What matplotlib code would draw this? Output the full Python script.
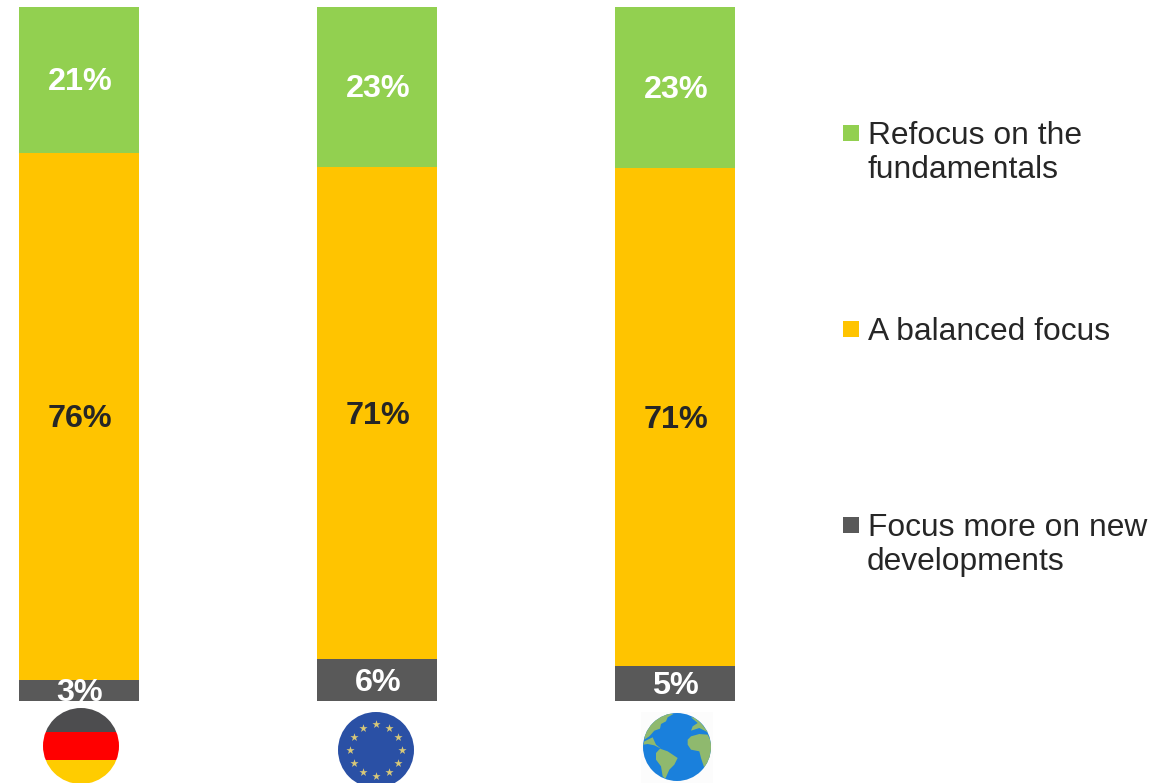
import numpy as np
import matplotlib.pyplot as plt
from matplotlib.patches import Circle, Rectangle, Polygon

plt.rcParams['font.family'] = ['Liberation Sans', 'DejaVu Sans']

regions = ['Germany', 'Europe', 'World']
new_developments = [3, 6, 5]
balanced = [76, 71, 71]
fundamentals = [21, 23, 23]

GREEN = '#92d050'
AMBER = '#ffc400'
GREY = '#595959'
INK = '#262626'

W, H = 1171, 783
fig = plt.figure(figsize=(W / 100, H / 100), dpi=100)

# bars sit on a 298 px pitch, first centre at x=79
ax = fig.add_axes([0, (H - 701) / H, 830 / W, 694 / H])
ax.set_xlim(-79 / 298, (830 - 79) / 298)
ax.set_ylim(0, 100)
ax.axis('off')

x = np.arange(len(regions))
series = [(new_developments, GREY, 'white'),
          (balanced, AMBER, INK),
          (fundamentals, GREEN, 'white')]
totals = np.sum([s[0] for s in series], axis=0)
bottom = np.zeros(len(regions))
for values, color, text_color in series:
    # stacked to 100 %, the rounded labels don't always add up
    heights = np.array(values) / totals * 100
    ax.bar(x, heights, width=120 / 298, bottom=bottom, color=color, linewidth=0)
    for xi, b, h, v in zip(x, bottom, heights, values):
        ax.annotate(f'{v}%', (xi, b + h / 2), xytext=(0.6, 0.7), textcoords='offset points',
                    ha='center', va='center_baseline', fontsize=23.3, fontweight='bold',
                    color=text_color, clip_on=True)
    bottom += heights

# overlay in pixel coordinates for the legend and the icons
ov = fig.add_axes([0, 0, 1, 1])
ov.set_xlim(0, W)
ov.set_ylim(H, 0)
ov.axis('off')
ov.patch.set_alpha(0)

legend_items = [('Refocus on the\nfundamentals', GREEN, 133),
                ('A balanced focus', AMBER, 329),
                ('Focus more on new\ndevelopments', GREY, 525)]
for label, color, y in legend_items:
    ov.add_patch(Rectangle((843, y - 8), 16, 16, color=color, linewidth=0))
    first, *rest = label.split('\n')
    ov.text(868, y - 1, first, fontsize=22.9, color=INK, va='center_baseline')
    if rest:
        ov.text(867, y + 33.5, rest[0], fontsize=22.9, color=INK, va='center_baseline')

# German flag
cx, cy, r = 81, 746, 38
clip = Circle((cx, cy), r, transform=ov.transData)
for top, bot, col in [(cy - r, 732, '#4d4d4f'), (732, 760, '#ff0000'), (760, cy + r, '#ffcc00')]:
    band = ov.add_patch(Rectangle((cx - r, top), 2 * r, bot - top, color=col, linewidth=0))
    band.set_clip_path(clip)

# EU flag
cx, cy, r = 376, 750, 38
ov.add_patch(Circle((cx, cy), r, color='#2a50a5', linewidth=0))
angles = np.deg2rad(np.arange(0, 360, 30))
ov.scatter(cx + 25.7 * np.cos(angles), cy + 25.7 * np.sin(angles), marker='*', s=38,
           color='#d8c878', linewidths=0, zorder=3)

# globe
cx, cy, r = 677, 747, 34
ov.add_patch(Rectangle((641, 712), 72, 71, color='#fcfcfc', linewidth=0))
ov.add_patch(Circle((cx, cy), r, color='#1a80dc', linewidth=0))
clip = Circle((cx, cy), r, transform=ov.transData)
continents = [
    [(25, 95), (28, 70), (45, 45), (70, 25), (100, 15), (112, 18), (95, 28), (90, 40),
     (75, 48), (72, 62), (55, 68), (40, 85)],
    [(25, 100), (50, 88), (60, 110), (75, 122), (55, 112), (35, 108), (22, 110)],
    [(60, 135), (72, 122), (95, 130), (125, 150), (115, 170), (100, 185), (88, 212),
     (80, 205), (75, 175), (60, 155)],
    [(155, 95), (165, 85), (190, 78), (215, 80), (225, 100), (225, 150), (205, 180),
     (195, 150), (190, 130), (165, 125), (155, 110)],
    [(165, 28), (185, 45), (170, 55), (165, 68), (190, 60), (210, 70), (218, 75),
     (195, 45), (175, 28)],
]
for pts in continents:
    # outlines traced on a 3x grid from (636, 708)
    xy = [(636 + px / 3, 708 + py / 3) for px, py in pts]
    land = ov.add_patch(Polygon(xy, closed=True, color='#8fb96e', linewidth=0))
    land.set_clip_path(clip)

fig.savefig('out.png', dpi=100, facecolor='white')
